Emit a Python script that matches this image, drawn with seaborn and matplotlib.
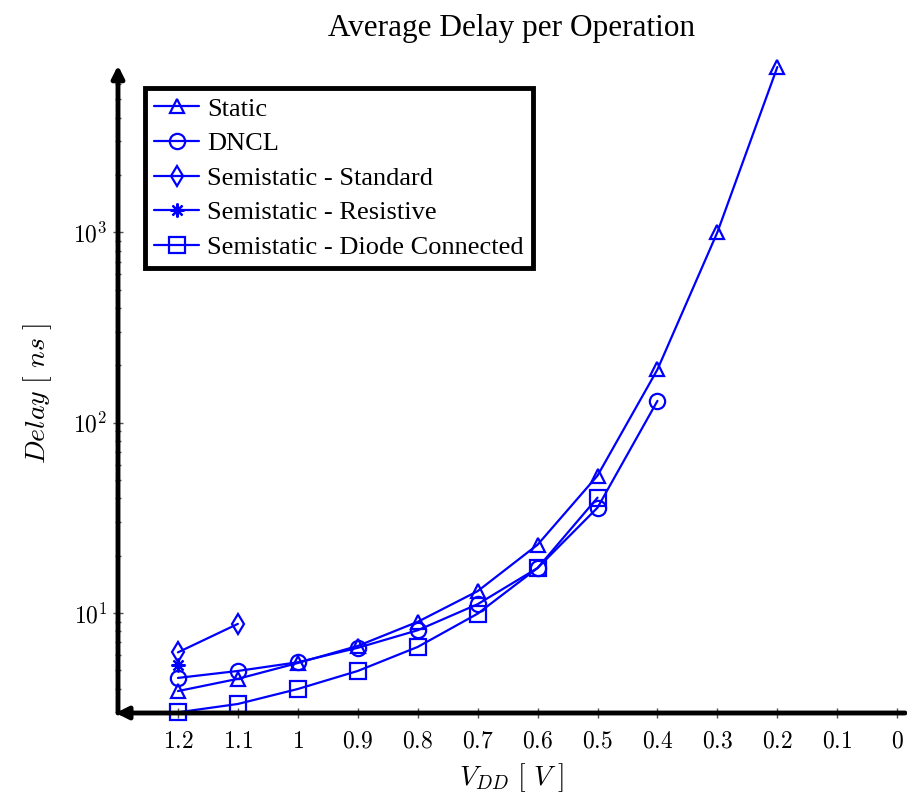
import matplotlib
matplotlib.use("Agg")
import matplotlib.pyplot as plt
import seaborn as sns
import numpy as np

sns.set_theme(style="white")
plt.rcParams['font.family'] = ['Liberation Serif', 'DejaVu Serif']
plt.rcParams['mathtext.fontset'] = 'cm'
plt.rcParams['text.color'] = 'black'
plt.rcParams['axes.labelcolor'] = 'black'
plt.rcParams['xtick.color'] = 'black'
plt.rcParams['ytick.color'] = 'black'

vdd_static = [1.2, 1.1, 1.0, 0.9, 0.8, 0.7, 0.6, 0.5, 0.4, 0.3, 0.2]
delay_static = [3.88, 4.5, 5.45, 6.7, 8.97, 13.0, 22.8, 52.6, 190, 1000, 7380]

vdd_dncl = [1.2, 1.1, 1.0, 0.9, 0.8, 0.7, 0.6, 0.5, 0.4]
delay_dncl = [4.55, 4.95, 5.5, 6.55, 8.1, 11.1, 17.2, 35.7, 130]

vdd_std = [1.2, 1.1]
delay_std = [6.2, 8.75]

vdd_res = [1.2]
delay_res = [5.3]

vdd_diode = [1.2, 1.1, 1.0, 0.9, 0.8, 0.7, 0.6, 0.5]
delay_diode = [3.0, 3.32, 3.98, 4.95, 6.62, 9.9, 17.2, 40.3]

series = [
    ("Static", vdd_static, delay_static, "^", 10),
    ("DNCL", vdd_dncl, delay_dncl, "o", 11),
    ("Semistatic - Standard", vdd_std, delay_std, "d", 10),
    ("Semistatic - Resistive", vdd_res, delay_res, (8, 2, 0), 10),
    ("Semistatic - Diode Connected", vdd_diode, delay_diode, "s", 11),
]

xticks = [1.2, 1.1, 1.0, 0.9, 0.8, 0.7, 0.6, 0.5, 0.4, 0.3, 0.2, 0.1, 0.0]
xticklabels = ["1.2", "1.1", "1", "0.9", "0.8", "0.7", "0.6", "0.5", "0.4", "0.3", "0.2", "0.1", "0"]

fig = plt.figure(figsize=(9.07, 7.99), dpi=100)
ax = fig.add_axes([118/907, 1-713/799, (905-118)/907, (713-75)/799])

blue = (0, 0, 1)
for name, x, y, m, ms in series:
    sns.lineplot(x=x, y=y, ax=ax, color=blue, linewidth=1.6, marker=m,
                 markersize=ms, markerfacecolor='none', markeredgecolor=blue,
                 markeredgewidth=1.6, label=name, clip_on=False, zorder=3)

ax.set_yscale('log')
ax.set_xlim(1.3, -0.013)
ylo = 10 ** (1 - 100/190)
yhi = 10 ** (3 + (232-75)/190)
ax.set_ylim(ylo, yhi)

ax.set_xticks(xticks)
ax.set_xticklabels([f"${t}$" for t in xticklabels], fontsize=17)
ax.set_yticks([10, 100, 1000])
ax.set_yticklabels([r"$10^{1}$", r"$10^{2}$", r"$10^{3}$"], fontsize=17)

for s in ax.spines.values():
    s.set_visible(False)
ax.tick_params(axis='both', which='both', direction='inout', color='#555555',
               labelcolor='black', width=1, left=True, bottom=True)
ax.tick_params(axis='x', which='major', length=7, pad=10)
ax.tick_params(axis='y', which='major', length=7, pad=4)
ax.tick_params(axis='y', which='minor', length=4)

# axis lines with arrows
ax.annotate('', xy=(0, 1.015), xytext=(0, 0), xycoords='axes fraction',
            arrowprops=dict(arrowstyle='-|>', lw=3.5, color='black',
                            mutation_scale=18, shrinkA=0, shrinkB=0))
ax.annotate('', xy=(-0.003, 0), xytext=(1.0, 0), xycoords='axes fraction',
            arrowprops=dict(arrowstyle='-|>', lw=3.5, color='black',
                            mutation_scale=18, shrinkA=0, shrinkB=0))

ax.set_xlabel(r"$V_{DD}\ [\ V\ ]$", fontsize=20, labelpad=6)
ax.set_ylabel(r"$Delay\ [\ ns\ ]$", fontsize=20, labelpad=14)
ax.set_title("Average Delay per Operation", fontsize=22.5, pad=28)

leg = ax.legend(loc='upper left', bbox_to_anchor=(27/787, 1-13/638),
                frameon=True, fancybox=False, fontsize=19,
                borderpad=0.35, labelspacing=0.42, handlelength=1.7,
                handletextpad=0.3, borderaxespad=0)
leg.get_frame().set_edgecolor('black')
leg.get_frame().set_linewidth(3.5)
leg.get_frame().set_alpha(1)

fig.savefig("out.png", dpi=100)
